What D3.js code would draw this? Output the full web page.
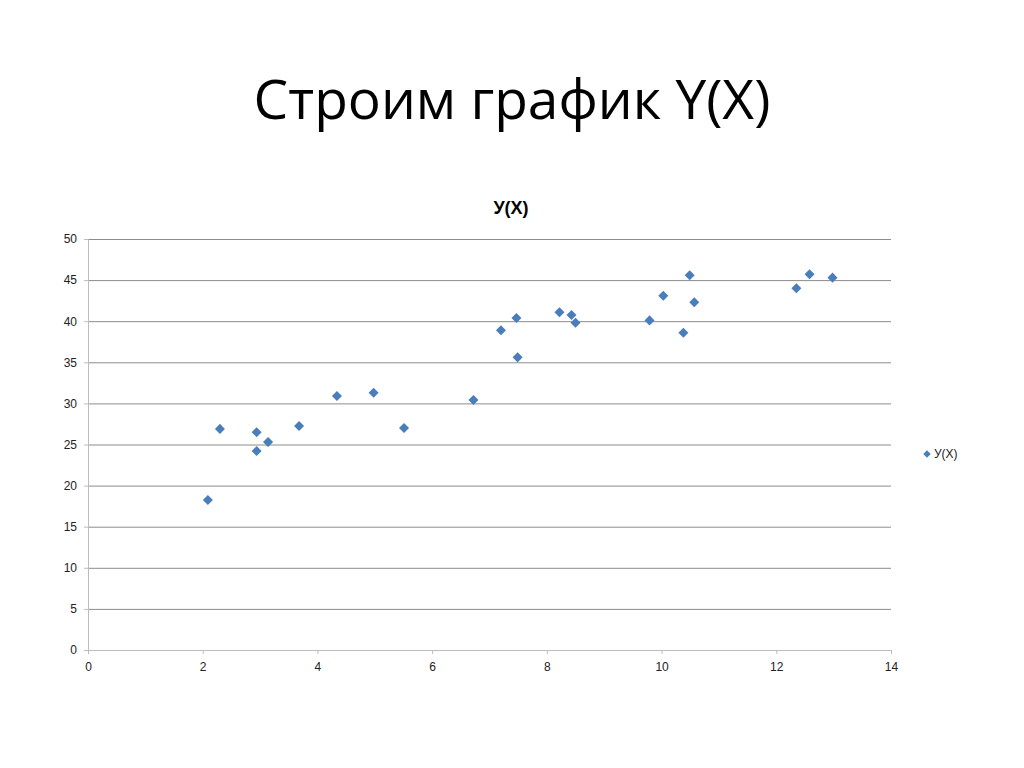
<!DOCTYPE html>
<html><head><meta charset="utf-8">
<script src="https://cdn.jsdelivr.net/npm/d3@7"></script>
<style>body{margin:0;background:#fff}svg{display:block}</style>
</head><body>
<svg id="c" width="1024" height="768"></svg>
<script>
const xValues = [2.09, 2.30, 2.94, 2.94, 3.14, 3.68, 4.34, 4.98, 5.51, 6.72, 7.20, 7.47, 7.49, 8.22, 8.43, 8.50, 9.79, 10.03, 10.38, 10.49, 10.57, 12.35, 12.58, 12.98];
const yValues = [18.25, 26.9, 26.5, 24.2, 25.3, 27.25, 30.9, 31.3, 27.0, 30.4, 38.9, 40.4, 35.6, 41.1, 40.75, 39.8, 40.1, 43.1, 38.6, 45.6, 42.3, 44.0, 45.7, 45.3];
const xTicks = [0, 2, 4, 6, 8, 10, 12, 14];
const yTicks = [0, 5, 10, 15, 20, 25, 30, 35, 40, 45, 50];
const slideTitle = "Строим график Y(X)";
const chartTitle = "У(X)";
const seriesName = "У(X)";

const svg = d3.select("#c");
const x = d3.scaleLinear().domain([0, 14]).range([88, 891]);
const y = d3.scaleLinear().domain([0, 50]).range([650, 239]);

svg.append("text").attr("x", 512).attr("y", 119).attr("text-anchor", "middle")
  .attr("font-family", "Open Sans, sans-serif").attr("font-size", 55).attr("fill", "#000").text(slideTitle);

svg.append("text").attr("x", 511).attr("y", 214).attr("text-anchor", "middle")
  .attr("font-family", "Liberation Sans, Arial, sans-serif").attr("font-weight", "bold").attr("font-size", 18).attr("fill", "#000").text(chartTitle);

// gridlines
svg.append("g").selectAll("line").data(yTicks.filter(d => d > 0)).join("line")
  .attr("x1", x(0)).attr("x2", x(14)).attr("y1", d => y(d) + 0.5).attr("y2", d => y(d) + 0.5)
  .attr("stroke", "#8c8c8c").attr("stroke-width", 1);

// y axis
const yAxis = d3.axisLeft(y).tickValues(yTicks).tickSize(4).tickPadding(7);
const gy = svg.append("g").attr("transform", `translate(${x(0)},0)`).call(yAxis);
gy.select(".domain").attr("stroke", "#bdbdbd");
gy.selectAll(".tick line").attr("stroke", "#bdbdbd");
gy.selectAll("text").attr("font-family", "Liberation Sans, Arial, sans-serif").attr("font-size", 12).attr("fill", "#222");

// x axis
const xAxis = d3.axisBottom(x).tickValues(xTicks).tickSize(4).tickPadding(8);
const gx = svg.append("g").attr("transform", `translate(0,${y(0)})`).call(xAxis);
gx.select(".domain").attr("stroke", "#bdbdbd");
gx.selectAll(".tick line").attr("stroke", "#bdbdbd");
gx.selectAll("text").attr("font-family", "Liberation Sans, Arial, sans-serif").attr("font-size", 12).attr("fill", "#222");

// points
const diamond = d3.symbol().type(d3.symbolDiamond2).size(64);
svg.append("g").selectAll("path").data(xValues.map((v, i) => [v, yValues[i]])).join("path")
  .attr("d", diamond).attr("transform", d => `translate(${x(d[0])},${y(d[1])})`)
  .attr("fill", "#4a7ebb");

// legend
svg.append("path").attr("d", d3.symbol().type(d3.symbolDiamond2).size(36)).attr("transform", "translate(927,454)").attr("fill", "#4a7ebb");
svg.append("text").attr("x", 934).attr("y", 458).attr("font-family", "Liberation Sans, Arial, sans-serif").attr("font-size", 12).attr("fill", "#222").text(seriesName);
</script>
</body></html>
